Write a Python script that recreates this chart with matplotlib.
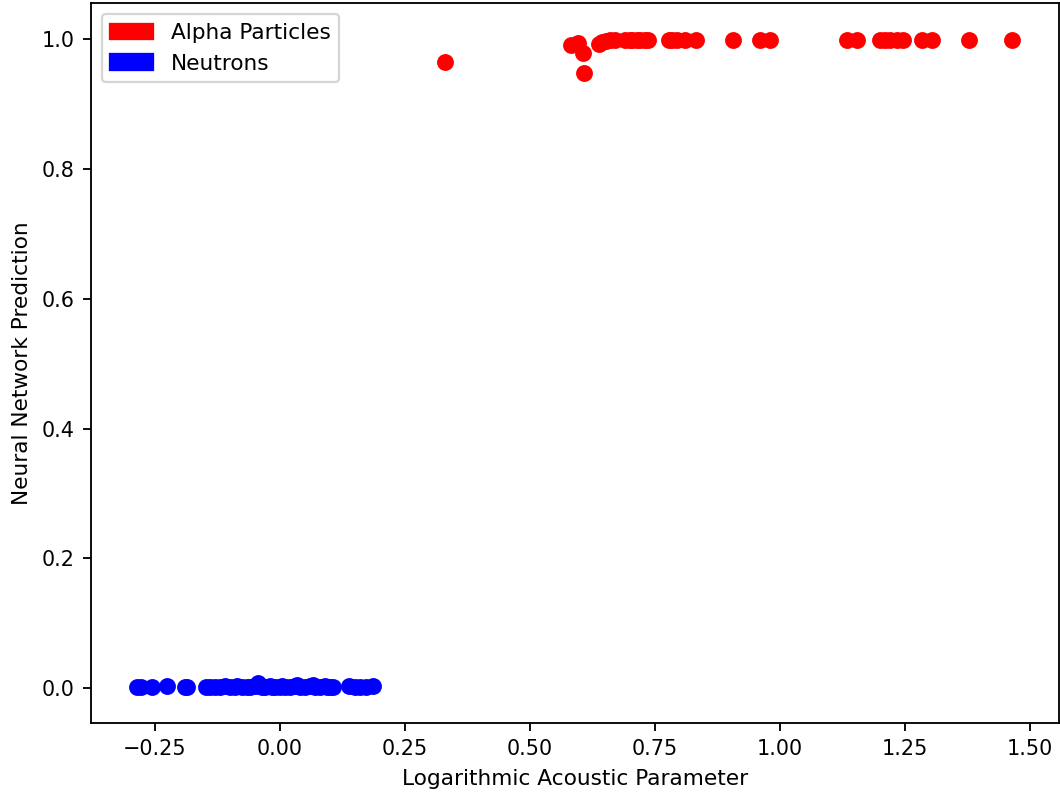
import numpy as np
import matplotlib
matplotlib.use("Agg")
import matplotlib.pyplot as plt
import matplotlib.patches as mpatches

# ── Data ───────────────────────────────────────────────────────────────────
alpha_x = [0.330, 0.583, 0.596, 0.607, 0.608, 0.638, 0.645, 0.652, 0.660,
           0.670, 0.690, 0.700, 0.705, 0.715, 0.720, 0.730, 0.736, 0.778,
           0.785, 0.795, 0.810, 0.832, 0.906, 0.960, 0.980, 1.134, 1.154,
           1.200, 1.210, 1.220, 1.235, 1.246, 1.284, 1.304, 1.378, 1.464]
alpha_y = [0.964, 0.991, 0.994, 0.978, 0.948, 0.993, 0.996, 0.997, 0.998,
           0.999, 0.999, 0.999, 0.999, 0.999, 0.999, 0.999, 0.999, 0.999,
           0.999, 0.999, 0.999, 0.999, 0.999, 0.999, 0.999, 0.999, 0.999,
           0.999, 0.999, 0.999, 0.999, 0.999, 0.999, 0.999, 0.999, 0.999]

neutron_x = [-0.285, -0.278, -0.255, -0.225, -0.190, -0.186, -0.148, -0.140,
             -0.130, -0.120, -0.110, -0.100, -0.090, -0.085, -0.075, -0.065,
             -0.060, -0.050, -0.044, -0.040, -0.035, -0.030, -0.020, -0.015,
             -0.010, 0.000, 0.005, 0.010, 0.020, 0.030, 0.034, 0.040, 0.050,
             0.060, 0.066, 0.070, 0.080, 0.090, 0.095, 0.100, 0.106, 0.138,
             0.150, 0.160, 0.172, 0.186]
neutron_y = [0.002, 0.002, 0.002, 0.003, 0.002, 0.002, 0.002, 0.002,
             0.002, 0.002, 0.003, 0.002, 0.002, 0.003, 0.002, 0.002,
             0.002, 0.003, 0.008, 0.003, 0.002, 0.002, 0.003, 0.002,
             0.002, 0.002, 0.003, 0.002, 0.002, 0.003, 0.005, 0.002, 0.002,
             0.003, 0.005, 0.002, 0.002, 0.003, 0.002, 0.002, 0.002, 0.003,
             0.002, 0.002, 0.002, 0.003]

# ── Figure (640x480 layout scaled up to 1060 px wide) ─────────────────────
dpi = 165.6
fig = plt.figure(figsize=(1060 / dpi, 793 / dpi), dpi=dpi)
ax = fig.add_axes([0.0856, 0.0879, 0.9134, 0.9079])

ax.scatter(alpha_x, alpha_y, color="red", s=40)
ax.scatter(neutron_x, neutron_y, color="blue", s=40)

ax.set_xlim(-0.378, 1.558)
ax.set_ylim(-0.054, 1.055)
ax.tick_params(labelsize=9)
ax.set_xlabel("Logarithmic Acoustic Parameter", fontsize=9.4)
ax.set_ylabel("Neural Network Prediction", fontsize=9.4)

handles = [mpatches.Patch(color="red", label="Alpha Particles"),
           mpatches.Patch(color="blue", label="Neutrons")]
ax.legend(handles=handles, loc="upper left", fontsize=9.4)

fig.savefig("out.png", dpi=dpi)
